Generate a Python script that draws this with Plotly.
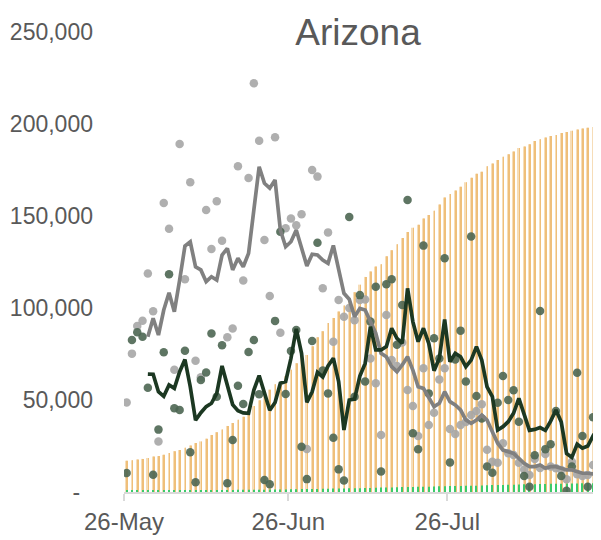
import pandas as pd
import plotly.graph_objects as go

UNIT = 1000  # values below are in thousands

start_date = "2020-05-26"
n_days = 90

# cumulative (orange bars)
cum_orange = [17.0,17.3,17.7,18.0,18.5,19.3,19.5,20.2,21.2,22.2,
              22.8,24.0,25.3,26.6,27.5,29.0,31.0,32.5,34.0,35.9,
              37.5,39.3,40.9,43.4,46.7,49.8,52.6,55.6,58.5,59.9,
              63.0,66.5,70.0,73.9,74.5,79.2,84.1,87.4,91.9,94.6,
              98.1,101.4,105.1,108.6,112.7,116.9,119.9,122.5,123.8,128.1,
              131.4,134.6,138.0,141.3,143.6,145.2,148.7,150.6,152.9,156.3,
              160.0,162.0,163.8,165.9,168.3,170.8,172.9,174.0,177.0,178.5,
              180.5,182.2,183.6,185.1,186.9,187.8,189.0,190.8,191.7,192.6,
              193.5,194.0,195.1,195.6,196.3,197.0,197.6,198.0,198.4,199.0]

# cumulative (green bars)
cum_green = [0.80,0.81,0.82,0.83,0.85,0.87,0.89,0.90,0.91,0.92,
             0.93,0.95,0.97,0.99,1.01,1.03,1.05,1.07,1.09,1.12,
             1.14,1.16,1.19,1.22,1.25,1.27,1.29,1.30,1.32,1.37,
             1.41,1.46,1.53,1.58,1.59,1.60,1.66,1.73,1.81,1.86,
             1.89,1.91,1.98,2.03,2.08,2.16,2.23,2.34,2.38,2.43,
             2.49,2.59,2.67,2.73,2.76,2.79,2.87,2.92,3.00,3.06,
             3.14,3.25,3.28,3.30,3.35,3.42,3.45,3.50,3.69,3.75,
             3.78,3.85,3.95,4.00,4.10,4.15,4.22,4.26,4.34,4.38,
             4.44,4.51,4.53,4.57,4.63,4.68,4.72,4.77,4.82,4.85]

# daily grey dots
grey_daily = [48.7,75.2,90.2,93.1,118.7,98.2,27.4,157.1,143.1,66.4,
              189.1,115.6,168.3,71.3,62.3,153.3,132.1,158.0,136.6,84.1,
              88.9,177.0,115.0,170.7,222.1,190.9,137.0,106.5,192.8,86.6,
              143.3,148.7,145.0,150.9,23.4,175.0,171.4,110.7,141.1,81.7,
              104.4,95.3,100.0,93.3,104.4,104.6,72.6,59.1,31.0,96.2,
              71.7,68.5,81.2,55.4,46.7,30.4,67.2,36.4,43.1,61.2,
              67.2,34.2,31.5,36.4,38.0,41.8,44.0,47.7,23.0,16.5,
              15.9,26.5,21.0,20.1,15.9,12.2,9.2,18.0,13.0,20.6,
              13.8,12.9,12.0,6.9,16.5,9.6,8.7,9.2,14.7,2.9]

# daily dark green dots
green_daily = [10.3,82.6,86.8,84.4,56.7,9.4,33.9,75.9,118.3,45.5,
               44.6,76.8,21.6,5.3,60.9,64.9,86.1,51.8,79.7,4.7,
               28.3,57.8,47.8,76.1,82.6,53.1,6.5,4.2,93.0,141.5,
               53.3,76.6,88.0,24.6,7.0,82.1,135.5,66.0,53.6,29.5,
               12.3,6.3,149.5,51.8,107.0,60.0,92.6,111.6,11.1,112.9,
               115.6,80.0,101.6,158.7,31.9,23.2,133.9,53.6,83.5,72.6,
               127.0,16.1,72.0,87.7,60.0,138.8,52.2,40.0,13.8,10.5,
               48.5,63.0,50.0,55.3,38.2,8.7,2.9,20.0,98.4,23.3,
               25.9,44.0,8.7,0.7,13.8,64.8,30.4,2.9,40.6,2.9]

# smoothed lines (first four days empty)
grey_avg = [None,None,None,None,84.4,94.4,85.3,98.9,108.3,98.0,
            115.2,133.7,136.0,122.4,120.7,114.3,117.0,115.2,128.8,132.4,
            120.7,127.0,122.4,129.7,153.3,176.8,167.8,165.1,169.6,142.4,
            133.3,136.0,142.4,133.3,122.9,129.2,128.8,126.1,124.3,134.0,
            122.0,108.0,104.8,95.3,99.8,98.9,92.6,86.3,75.4,73.5,
            68.1,65.4,69.0,73.5,66.3,57.2,56.3,51.8,46.4,48.2,
            54.5,49.1,47.3,44.6,39.1,37.3,39.1,41.8,39.1,32.8,
            26.5,22.8,21.9,21.0,18.3,15.6,13.8,13.8,14.7,12.9,
            13.8,13.8,12.9,12.0,12.0,11.0,10.2,10.2,9.8,8.3]

green_avg = [None,None,None,None,64.1,64.0,54.5,52.0,58.2,56.3,
             65.4,72.0,57.2,39.0,43.1,46.4,48.2,53.6,68.5,57.2,
             47.5,44.2,43.0,42.8,55.4,63.3,54.5,44.4,48.6,59.1,
             60.0,72.6,88.7,75.4,48.7,54.5,65.0,62.5,68.5,72.7,
             60.0,33.7,50.0,50.5,63.0,69.9,89.9,77.2,77.2,79.0,
             89.0,83.5,80.8,110.7,92.6,81.7,89.0,80.8,65.9,72.7,
             93.8,70.8,75.4,73.5,68.1,71.7,79.0,71.7,57.2,51.8,
             33.7,35.5,38.2,42.8,50.9,42.0,33.5,34.0,35.0,33.5,
             38.5,44.6,38.0,21.0,18.8,26.0,23.8,25.0,30.5,28.0]

x_tickvals = ["2020-05-26", "2020-06-26", "2020-07-26"]
x_ticktext = ["26-May", "26-Jun", "26-Jul"]
y_tickvals = [0, 50000, 100000, 150000, 200000, 250000]
y_ticktext = ["-\u00a0\u00a0", "50,000", "100,000", "150,000", "200,000", "250,000"]

def k(vals):
    return [None if v is None else v * UNIT for v in vals]

dates = pd.date_range(start_date, periods=n_days, freq="D") + pd.Timedelta(hours=12)
DAY_MS = 86400000

FONT = "Liberation Sans, Arial, sans-serif"
TXT = "#595959"

# the page body adds an 8px offset; figure is sized to fill the window after it
W, H = 593, 532

fig = go.Figure()
fig.add_trace(go.Bar(x=dates, y=k(cum_orange), width=0.34 * DAY_MS,
                     marker=dict(color="#F6DDB8", line=dict(width=0))))
fig.add_trace(go.Bar(x=dates, y=k(cum_orange), width=0.13 * DAY_MS,
                     offset=0.04 * DAY_MS,
                     marker=dict(color="#EFBF7A", line=dict(width=0))))
fig.add_trace(go.Bar(x=dates, y=k(cum_green), width=0.2 * DAY_MS,
                     marker=dict(color="#3CCB6A", line=dict(width=0))))
fig.add_trace(go.Scatter(x=dates, y=k(grey_daily), mode="markers",
                         marker=dict(color="#A6A6A6", size=8.5, opacity=0.9)))
fig.add_trace(go.Scatter(x=dates, y=k(green_daily), mode="markers",
                         marker=dict(color="#4D6652", size=8.5, opacity=0.9)))
fig.add_trace(go.Scatter(x=dates, y=k(grey_avg), mode="lines",
                         line=dict(color="#808080", width=3.7)))
fig.add_trace(go.Scatter(x=dates, y=k(green_avg), mode="lines",
                         line=dict(color="#1C3822", width=3.7)))

fig.update_layout(
    width=W, height=H,
    margin=dict(l=116, r=0, t=24, b=48),
    paper_bgcolor="white", plot_bgcolor="white",
    showlegend=False, barmode="overlay",
    font=dict(family=FONT, color=TXT),
    title=dict(text="Arizona", x=350 / W, xref="container", xanchor="center",
               y=1 - 24 / H, yref="container", yanchor="middle",
               font=dict(size=37, color=TXT, family=FONT)),
)
fig.update_xaxes(type="date", range=["2020-05-26", "2020-08-24"],
                 tickvals=x_tickvals, ticktext=x_ticktext,
                 showline=True, linecolor="#D9D9D9", linewidth=2,
                 ticks="outside", ticklen=7, tickwidth=2, tickcolor="#D9D9D9",
                 showgrid=False, zeroline=False, automargin=False,
                 tickfont=dict(size=24, color=TXT, family=FONT))
fig.update_yaxes(range=[0, 250000], tickvals=y_tickvals, ticktext=y_ticktext,
                 showgrid=False, zeroline=False, showline=False,
                 ticklabelstandoff=30, automargin=False,
                 tickfont=dict(size=23, color=TXT, family=FONT))

fig.write_html("out.html")
